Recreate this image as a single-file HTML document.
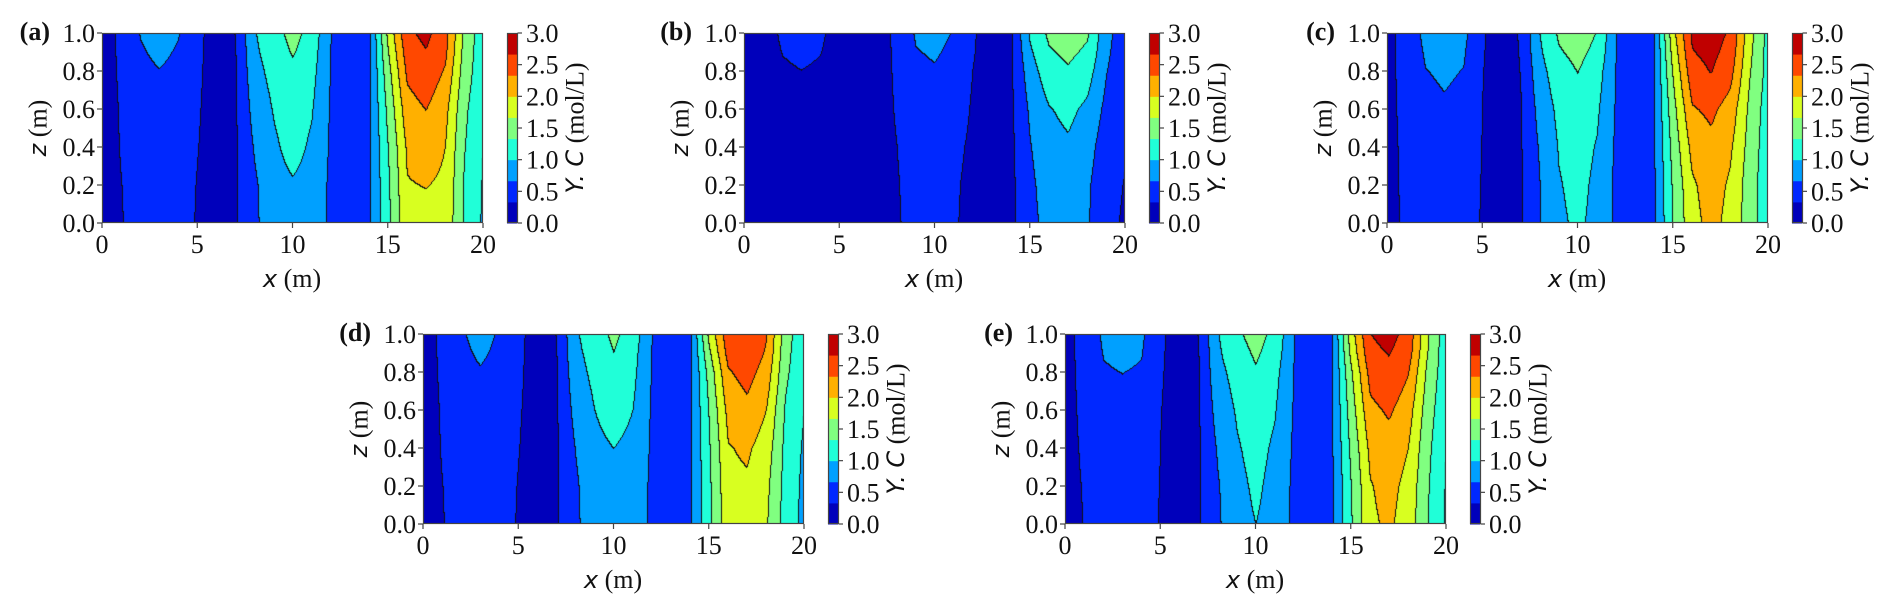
<!DOCTYPE html>
<html><head><meta charset="utf-8"><style>
body{margin:0;width:1892px;height:610px;background:#fff;position:relative;overflow:hidden}
canvas{position:absolute}
svg{position:absolute;left:0;top:0}
.t{font-family:"Liberation Serif",serif;font-size:26px;fill:#111}
.s{font-family:"DejaVu Sans","Liberation Sans",sans-serif;font-style:italic;font-size:24px}
.b{font-family:"Liberation Serif",serif;font-weight:bold;font-size:26px;fill:#111}
</style></head><body>
<div id="fig" style="position:absolute;left:0;top:0;width:1892px;height:610px"></div>
<svg id="ov" width="1892" height="610">
<g>
<text class="b" x="50" y="40" text-anchor="end">(a)</text>
<text class="t" x="292" y="287" text-anchor="middle"><tspan class="s">x</tspan> (m)</text>
<text class="t" transform="translate(38,128) rotate(-90)" text-anchor="middle" dominant-baseline="central"><tspan class="s">z</tspan> (m)</text>
<text class="t" transform="translate(575,128) rotate(-90)" text-anchor="middle" dominant-baseline="central"><tspan class="s">Y. C</tspan> (mol/L)</text>
</g>
<g>
<text class="b" x="692" y="40" text-anchor="end">(b)</text>
<text class="t" x="934" y="287" text-anchor="middle"><tspan class="s">x</tspan> (m)</text>
<text class="t" transform="translate(680,128) rotate(-90)" text-anchor="middle" dominant-baseline="central"><tspan class="s">z</tspan> (m)</text>
<text class="t" transform="translate(1217,128) rotate(-90)" text-anchor="middle" dominant-baseline="central"><tspan class="s">Y. C</tspan> (mol/L)</text>
</g>
<g>
<text class="b" x="1335" y="40" text-anchor="end">(c)</text>
<text class="t" x="1577" y="287" text-anchor="middle"><tspan class="s">x</tspan> (m)</text>
<text class="t" transform="translate(1323,128) rotate(-90)" text-anchor="middle" dominant-baseline="central"><tspan class="s">z</tspan> (m)</text>
<text class="t" transform="translate(1860,128) rotate(-90)" text-anchor="middle" dominant-baseline="central"><tspan class="s">Y. C</tspan> (mol/L)</text>
</g>
<g>
<text class="b" x="371" y="341" text-anchor="end">(d)</text>
<text class="t" x="613" y="588" text-anchor="middle"><tspan class="s">x</tspan> (m)</text>
<text class="t" transform="translate(359,429) rotate(-90)" text-anchor="middle" dominant-baseline="central"><tspan class="s">z</tspan> (m)</text>
<text class="t" transform="translate(896,429) rotate(-90)" text-anchor="middle" dominant-baseline="central"><tspan class="s">Y. C</tspan> (mol/L)</text>
</g>
<g>
<text class="b" x="1013" y="341" text-anchor="end">(e)</text>
<text class="t" x="1255" y="588" text-anchor="middle"><tspan class="s">x</tspan> (m)</text>
<text class="t" transform="translate(1001,429) rotate(-90)" text-anchor="middle" dominant-baseline="central"><tspan class="s">z</tspan> (m)</text>
<text class="t" transform="translate(1538,429) rotate(-90)" text-anchor="middle" dominant-baseline="central"><tspan class="s">Y. C</tspan> (mol/L)</text>
</g>
</svg>
<script>
const xNodes=[0,1,2,3,4,5,6,7,8,9,10,11,12,13,14,15,16,17,18,19,20];
const zNodes=[0,0.2,0.4,0.6,0.8,0.9,1.0];
const xTicks=[0,5,10,15,20];
const xTickLabels=["0","5","10","15","20"];
const zTicks=[0,0.2,0.4,0.6,0.8,1.0];
const zTickLabels=["0.0","0.2","0.4","0.6","0.8","1.0"];
const cbTicks=[0,0.5,1,1.5,2,2.5,3];
const cbTickLabels=["0.0","0.5","1.0","1.5","2.0","2.5","3.0"];
const levels=[0,0.333,0.667,1.0,1.333,1.667,2.0,2.333,2.667,3.0];
const levelColors=["#0000bb","#0028ff","#00a0ff","#20ffd8","#80ff80","#d8ff20","#ffb000","#ff4800","#c00000"];
// concentration grids: one row per x node, values at zNodes
const gridA=[
[0.2,0.2,0.2,0.2,0.2,0.2,0.2],
[0.32,0.33,0.35,0.36,0.38,0.39,0.4],
[0.45,0.46,0.5,0.55,0.6,0.64,0.68],
[0.5,0.52,0.56,0.6,0.66,0.72,0.78],
[0.45,0.46,0.5,0.55,0.6,0.64,0.68],
[0.31,0.32,0.34,0.36,0.38,0.39,0.4],
[0.2,0.2,0.2,0.2,0.2,0.2,0.2],
[0.3,0.3,0.3,0.31,0.32,0.33,0.34],
[0.6,0.62,0.7,0.8,0.9,0.95,0.98],
[0.9,0.9,0.95,1.02,1.1,1.15,1.2],
[0.9,0.97,1.1,1.18,1.25,1.36,1.45],
[0.9,0.9,0.95,1.02,1.1,1.15,1.2],
[0.6,0.6,0.62,0.63,0.65,0.66,0.67],
[0.4,0.4,0.4,0.4,0.4,0.4,0.4],
[0.62,0.62,0.62,0.62,0.61,0.6,0.6],
[1.25,1.28,1.33,1.42,1.55,1.65,1.75],
[1.95,1.98,2.05,2.2,2.4,2.5,2.6],
[1.9,2.01,2.15,2.34,2.55,2.65,2.75],
[1.9,1.95,2.0,2.1,2.3,2.4,2.45],
[1.3,1.3,1.35,1.4,1.5,1.55,1.6],
[0.95,0.97,1.0,1.05,1.1,1.1,1.1]];
const gridB=[
[0.2,0.2,0.2,0.2,0.2,0.2,0.2],
[0.2,0.2,0.2,0.2,0.2,0.2,0.2],
[0.2,0.2,0.22,0.25,0.3,0.34,0.38],
[0.22,0.23,0.25,0.28,0.33,0.38,0.42],
[0.2,0.2,0.22,0.25,0.3,0.34,0.38],
[0.2,0.2,0.2,0.2,0.2,0.2,0.2],
[0.2,0.2,0.2,0.2,0.2,0.2,0.2],
[0.2,0.2,0.2,0.2,0.2,0.2,0.2],
[0.3,0.31,0.33,0.36,0.38,0.39,0.4],
[0.45,0.47,0.5,0.55,0.6,0.65,0.7],
[0.48,0.5,0.54,0.58,0.64,0.7,0.76],
[0.36,0.37,0.4,0.48,0.55,0.6,0.65],
[0.25,0.26,0.28,0.3,0.33,0.35,0.36],
[0.2,0.2,0.2,0.2,0.2,0.2,0.2],
[0.25,0.26,0.27,0.28,0.29,0.3,0.3],
[0.6,0.61,0.65,0.72,0.85,0.95,1.05],
[0.75,0.8,0.88,0.98,1.2,1.3,1.4],
[0.8,0.85,0.95,1.08,1.3,1.4,1.45],
[0.7,0.72,0.8,0.93,1.15,1.28,1.38],
[0.4,0.42,0.48,0.58,0.68,0.72,0.75],
[0.3,0.32,0.35,0.4,0.45,0.48,0.5]];
const gridC=[
[0.25,0.25,0.25,0.25,0.25,0.25,0.25],
[0.38,0.39,0.4,0.42,0.44,0.45,0.46],
[0.5,0.52,0.56,0.6,0.66,0.7,0.75],
[0.55,0.57,0.6,0.64,0.7,0.76,0.82],
[0.5,0.52,0.56,0.6,0.66,0.7,0.75],
[0.3,0.31,0.32,0.33,0.34,0.35,0.36],
[0.2,0.2,0.2,0.2,0.2,0.2,0.2],
[0.3,0.3,0.31,0.32,0.34,0.35,0.36],
[0.65,0.66,0.7,0.78,0.88,0.95,1.0],
[0.95,0.98,1.02,1.08,1.2,1.3,1.38],
[1.05,1.08,1.12,1.2,1.34,1.42,1.5],
[0.92,0.94,0.98,1.05,1.15,1.25,1.32],
[0.6,0.6,0.62,0.64,0.66,0.67,0.68],
[0.4,0.4,0.4,0.4,0.4,0.4,0.4],
[0.62,0.63,0.64,0.64,0.64,0.64,0.64],
[1.35,1.38,1.45,1.55,1.7,1.8,1.9],
[1.9,1.95,2.1,2.3,2.55,2.65,2.72],
[2.1,2.15,2.25,2.4,2.68,2.75,2.82],
[1.9,1.95,2.05,2.2,2.45,2.55,2.62],
[1.5,1.5,1.55,1.6,1.7,1.75,1.8],
[1.1,1.1,1.12,1.15,1.2,1.2,1.2]];
const gridD=[
[0.2,0.2,0.2,0.2,0.2,0.2,0.2],
[0.32,0.33,0.35,0.36,0.38,0.39,0.4],
[0.45,0.46,0.5,0.55,0.6,0.62,0.64],
[0.5,0.52,0.56,0.6,0.65,0.7,0.75],
[0.45,0.46,0.5,0.55,0.6,0.62,0.64],
[0.31,0.32,0.34,0.36,0.38,0.39,0.4],
[0.2,0.2,0.2,0.2,0.2,0.2,0.2],
[0.3,0.3,0.3,0.31,0.32,0.33,0.34],
[0.6,0.62,0.68,0.78,0.88,0.93,0.96],
[0.9,0.9,0.93,1.0,1.08,1.12,1.18],
[0.9,0.93,1.0,1.12,1.22,1.33,1.4],
[0.9,0.9,0.93,1.0,1.08,1.12,1.18],
[0.6,0.6,0.62,0.63,0.65,0.66,0.67],
[0.4,0.4,0.4,0.4,0.4,0.4,0.4],
[0.62,0.62,0.62,0.62,0.61,0.6,0.6],
[1.25,1.27,1.3,1.35,1.45,1.6,1.75],
[1.9,1.92,1.98,2.1,2.3,2.45,2.55],
[1.85,1.95,2.05,2.25,2.45,2.55,2.62],
[1.7,1.75,1.85,2.0,2.2,2.3,2.35],
[1.2,1.22,1.25,1.3,1.4,1.45,1.5],
[0.9,0.92,0.95,1.0,1.05,1.05,1.05]];
const gridE=[
[0.25,0.25,0.25,0.25,0.25,0.25,0.25],
[0.34,0.35,0.37,0.39,0.41,0.42,0.43],
[0.48,0.5,0.54,0.58,0.64,0.68,0.72],
[0.52,0.55,0.58,0.62,0.67,0.73,0.8],
[0.48,0.5,0.54,0.58,0.64,0.68,0.72],
[0.31,0.32,0.33,0.34,0.36,0.37,0.38],
[0.2,0.2,0.2,0.2,0.2,0.2,0.2],
[0.3,0.3,0.3,0.31,0.32,0.33,0.34],
[0.62,0.64,0.7,0.8,0.9,0.95,0.98],
[0.9,0.92,0.97,1.03,1.12,1.2,1.28],
[1.0,1.05,1.1,1.18,1.3,1.38,1.45],
[0.9,0.91,0.95,1.02,1.1,1.18,1.25],
[0.6,0.6,0.62,0.64,0.66,0.67,0.68],
[0.4,0.4,0.4,0.4,0.4,0.4,0.4],
[0.62,0.62,0.64,0.64,0.64,0.64,0.64],
[1.3,1.33,1.4,1.5,1.62,1.75,1.85],
[1.95,1.98,2.08,2.25,2.45,2.58,2.66],
[2.05,2.1,2.2,2.38,2.6,2.68,2.78],
[1.85,1.9,2.0,2.15,2.35,2.48,2.55],
[1.35,1.37,1.42,1.5,1.6,1.68,1.72],
[0.95,0.97,1.0,1.05,1.1,1.1,1.1]];
const panelIds=["a","b","c","d","e"];
const panelGrids=[gridA,gridB,gridC,gridD,gridE];
const panelLeft=[102,744,1387,423,1065];
const panelTop=[33,33,33,334,334];

const W=381,H=190,NS="http://www.w3.org/2000/svg";
const fig=document.getElementById('fig'),ov=document.getElementById('ov');
function hex(c){return [parseInt(c.slice(1,3),16),parseInt(c.slice(3,5),16),parseInt(c.slice(5,7),16)];}
const rgb=levelColors.map(hex);
function val(g,x,z){
  let i=0;while(i<xNodes.length-2&&x>xNodes[i+1])i++;
  let j=0;while(j<zNodes.length-2&&z>zNodes[j+1])j++;
  const tx=(x-xNodes[i])/(xNodes[i+1]-xNodes[i]),tz=(z-zNodes[j])/(zNodes[j+1]-zNodes[j]);
  const a=g[i][j]*(1-tz)+g[i][j+1]*tz,b=g[i+1][j]*(1-tz)+g[i+1][j+1]*tz;
  return a*(1-tx)+b*tx;
}
function lvl(v){let k=0;while(k<levelColors.length-1&&v>=levels[k+1])k++;return k;}
function el(tag,attrs,parent){const e=document.createElementNS(NS,tag);for(const k in attrs)e.setAttribute(k,attrs[k]);parent.appendChild(e);return e;}

panelIds.forEach((id,p)=>{
  const L=panelLeft[p],T=panelTop[p],g=panelGrids[p];
  const xs=x=>L+x/20*W, zs=z=>T+H-z*H, cs=v=>T+H-v/3*H;
  const cv=document.createElement('canvas');
  
  
  cv.width=W;cv.height=H;cv.style.left=L+'px';cv.style.top=T+'px';
  fig.appendChild(cv);
  const ctx=cv.getContext('2d'),img=ctx.createImageData(W,H),L2=new Int8Array(W*H);
  for(let py=0;py<H;py++)for(let px=0;px<W;px++){
    L2[py*W+px]=lvl(val(g,(px+0.5)/W*20,1-(py+0.5)/H));
  }
  for(let py=0;py<H;py++)for(let px=0;px<W;px++){
    const k=L2[py*W+px];let c=rgb[k];
    if((px>0&&L2[py*W+px-1]!==k)||(py>0&&L2[(py-1)*W+px]!==k))c=[17,17,17];
    const o=(py*W+px)*4;img.data[o]=c[0];img.data[o+1]=c[1];img.data[o+2]=c[2];img.data[o+3]=255;
  }
  ctx.putImageData(img,0,0);
  const grp=el('g',{},ov);
  
  
  const fr=el('rect',{x:L+0.5,y:T+0.5,width:W-1,height:H-1,fill:'none',stroke:'#444','stroke-width':1.2},grp);
  
  
  xTicks.forEach((t,i)=>{
    const tk=el('line',{x1:xs(t),x2:xs(t),y1:T+H,y2:T+H+5,stroke:'#444','stroke-width':1.2},grp);
    
    
    const tl=el('text',{x:xs(t),y:T+H+30,'text-anchor':'middle','class':'t'},grp);
    tl.textContent=xTickLabels[i];
    
    
  });
  zTicks.forEach((t,i)=>{
    const tk=el('line',{x1:L-5,x2:L,y1:zs(t),y2:zs(t),stroke:'#444','stroke-width':1.2},grp);
    
    
    const tl=el('text',{x:L-7,y:zs(t)+9,'text-anchor':'end','class':'t'},grp);
    tl.textContent=zTickLabels[i];
    
    
  });
  const CB=L+405;
  levelColors.forEach((c,k)=>{
    const r=el('rect',{x:CB,y:cs(levels[k+1]),width:10,height:cs(levels[k])-cs(levels[k+1])+0.5,fill:c},grp);
    
    
  });
  const cf=el('rect',{x:CB+0.5,y:T+0.5,width:10,height:H-1,fill:'none',stroke:'#444','stroke-width':1.2},grp);
  
  
  cbTicks.forEach((t,i)=>{
    const tk=el('line',{x1:CB+10.5,x2:CB+15,y1:cs(t),y2:cs(t),stroke:'#444','stroke-width':1.2},grp);
    
    
    const tl=el('text',{x:CB+19,y:cs(t)+9,'class':'t'},grp);
    tl.textContent=cbTickLabels[i];
    
    
  });
});
</script>
</body></html>
